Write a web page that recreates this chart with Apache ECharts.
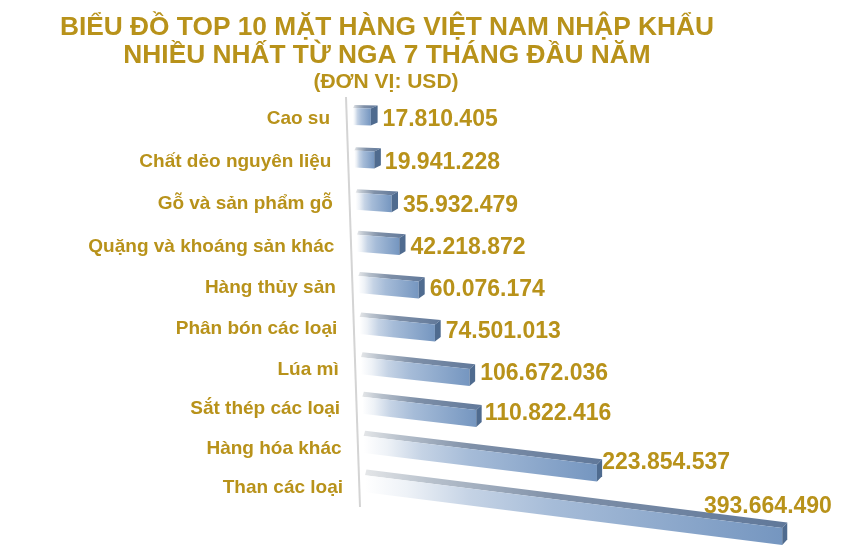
<!DOCTYPE html>
<html><head><meta charset="utf-8">
<style>html,body{margin:0;padding:0;background:#fff}#c{width:841px;height:557px}</style>
<script src="https://cdn.jsdelivr.net/npm/echarts@6/dist/echarts.min.js"></script>
</head><body><div id="c"></div>
<script>
const categories = ['Cao su','Chất dẻo nguyên liệu','Gỗ và sản phẩm gỗ','Quặng và khoáng sản khác','Hàng thủy sản','Phân bón các loại','Lúa mì','Sắt thép các loại','Hàng hóa khác','Than các loại'];
const values = [17810405,19941228,35932479,42218872,60076174,74501013,106672036,110822416,223854537,393664490];
const titleLines = ['BIỂU ĐỒ TOP 10 MẶT HÀNG VIỆT NAM NHẬP KHẨU','NHIỀU NHẤT TỪ NGA 7 THÁNG ĐẦU NĂM'];
const unitLine = '(ĐƠN VỊ: USD)';

const GOLD = '#b8921a';
const gridLeft = 353, gridTop = 96, rowH = 40.8, n = categories.length;
const fmt = v => String(v).replace(/\B(?=(\d{3})+$)/g, '.');

// Projection that tilts the flat chart plane into the reference's perspective
function rowOf(py){ return (py - gridTop - rowH/2) / rowH; }
const bow = r => 5*Math.sin(Math.PI*r/9);
function project(px, py, up){
  const r = rowOf(py), len = px - gridLeft;
  const x0 = gridLeft + 1.33*r;
  const scale = 1 + 0.06*Math.pow(r/9, 3);
  const slope = 0.035 + 0.0165*r - 0.0007*r*r;
  const h = 17;
  return [x0 + len*scale, py + 8.6 + bow(r) + slope*len*scale - h*(up||0)];
}
const faceGrad = new echarts.graphic.LinearGradient(0,0,1,0,[
  {offset:0,color:'#ffffff'},{offset:0.1,color:'#eef2f7'},{offset:0.25,color:'#c5d3e5'},{offset:0.45,color:'#a6bcd8'},{offset:1,color:'#7596c0'}]);
const topGrad = new echarts.graphic.LinearGradient(0,0,1,0,[
  {offset:0,color:'#e4e6e8'},{offset:0.15,color:'#b9c2cd'},{offset:0.45,color:'#7f90a8'},{offset:1,color:'#60789a'}]);

function renderBar(params, api){
  const v = api.value(0), idx = api.value(1);
  const end = api.coord([v, idx]), base = api.coord([0, idx]);
  const r = idx;
  const fl0 = project(base[0], base[1], 0), fl1 = project(base[0], base[1], 1);
  const fr0 = project(end[0], end[1], 0), fr1 = project(end[0], end[1], 1);
  const dxR = 6.8 - 0.2*r, dy = -3 - 0.3*r;
  const bl1 = [fl1[0]+1.5, fl1[1]+dy];
  const br1 = [fr1[0]+dxR, fr1[1]+dy], br0 = [fr0[0]+dxR, fr0[1]+dy];
  const style = fill => ({fill, stroke:null});
  const nudgeX = [0,-1,0,0,0,0,0,-2,-5,0][r];
  const nudgeY = [0,0,0,-1,-2,-3,-4,-7,-1,0][r];
  const labelLeft = Math.min(br0[0] + 5 + nudgeX, 704);
  const labelY = 120 + 43*r + nudgeY;
  const catPt = [330 + 1.45*r, 119 + 41*r + bow(r)];
  return {type:'group', children:[
    {type:'polygon', shape:{points:[fl1,fr1,br1,bl1]}, style:style(topGrad), z2:1},
    {type:'polygon', shape:{points:[fl0,fr0,fr1,fl1]}, style:style(faceGrad), z2:2},
    {type:'polygon', shape:{points:[fr0,fr1,br1,br0]}, style:style('#4f6b8f'), z2:2},
    {type:'text', x:labelLeft, y:labelY, z2:10, style:{text:fmt(v), fill:GOLD, font:'bold 23px "Liberation Sans", Arial, sans-serif', textAlign:'left', textVerticalAlign:'middle'}},
    {type:'text', x:catPt[0], y:catPt[1], z2:10, style:{text:categories[idx], fill:GOLD, font:'bold 19px "Liberation Sans", Arial, sans-serif', textAlign:'right', textVerticalAlign:'middle'}}
  ]};
}
function renderAxisLine(params, api){
  if (params.dataIndex !== 0) return;
  return {type:'line', z2:0, shape:{x1:346, y1:97, x2:360, y2:507}, style:{stroke:'#d4d4d4', lineWidth:2}};
}

const chart = echarts.init(document.getElementById('c'), null, {renderer:'canvas'});
chart.setOption({
  animation:false,
  backgroundColor:'#fff',
  title:[
    {text:titleLines.join('\n'), left:382, top:9, textAlign:'center',
     textStyle:{color:GOLD, fontFamily:'"Liberation Sans", Arial, sans-serif', fontWeight:'bold', fontSize:26.3, lineHeight:28}},
    {text:unitLine, left:381, top:67, textAlign:'center',
     textStyle:{color:GOLD, fontFamily:'"Liberation Sans", Arial, sans-serif', fontWeight:'bold', fontSize:21}}
  ],
  grid:{left:gridLeft, top:gridTop, width:841-gridLeft, height:rowH*n},
  xAxis:{type:'value', min:0, max:(841-gridLeft)*1e6, show:false},
  yAxis:{type:'category', inverse:true, data:categories, show:false},
  series:[
    {type:'custom', renderItem:renderAxisLine, clip:false, silent:true, z:1, data:[[0,0]], encode:{x:0,y:1}},
    {type:'custom', renderItem:renderBar, clip:false, silent:true, z:2,
     data:values.map((v,i)=>[v,i]), encode:{x:0,y:1}}
  ]
});
</script></body></html>
